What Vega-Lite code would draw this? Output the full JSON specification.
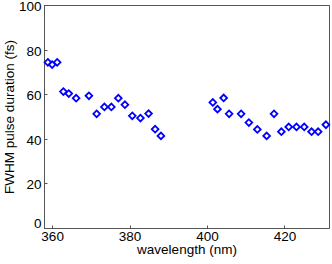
{
  "$schema": "https://vega.github.io/schema/vega-lite/v6.json",
  "width": 285,
  "height": 223,
  "autosize": "none",
  "padding": {"left": 44, "top": 5, "right": 3, "bottom": 36},
  "background": "white",
  "config": {
    "view": {"stroke": "#555555", "strokeWidth": 1},
    "font": "Liberation Sans",
    "axis": {
      "grid": false,
      "domainColor": "#555555",
      "tickColor": "#555555",
      "tickSize": -3,
      "labelColor": "#000000",
      "titleColor": "#000000",
      "labelFont": "Liberation Sans",
      "titleFont": "Liberation Sans",
      "labelFontSize": 13.5,
      "titleFontSize": 13.5,
      "titleFontWeight": "normal"
    }
  },
  "data": {
    "values": [
      {"wavelength": 358.9, "fwhm": 74.3},
      {"wavelength": 360.0, "fwhm": 73.3},
      {"wavelength": 361.3, "fwhm": 74.3},
      {"wavelength": 362.9, "fwhm": 61.2},
      {"wavelength": 364.3, "fwhm": 60.3},
      {"wavelength": 366.2, "fwhm": 58.2},
      {"wavelength": 369.5, "fwhm": 59.3},
      {"wavelength": 371.5, "fwhm": 51.2},
      {"wavelength": 373.5, "fwhm": 54.3},
      {"wavelength": 375.3, "fwhm": 54.3},
      {"wavelength": 377.1, "fwhm": 58.2},
      {"wavelength": 378.8, "fwhm": 55.3},
      {"wavelength": 380.7, "fwhm": 50.3},
      {"wavelength": 382.8, "fwhm": 49.3},
      {"wavelength": 384.9, "fwhm": 51.3},
      {"wavelength": 386.6, "fwhm": 44.3},
      {"wavelength": 388.1, "fwhm": 41.3},
      {"wavelength": 401.5, "fwhm": 56.3},
      {"wavelength": 402.7, "fwhm": 53.3},
      {"wavelength": 404.3, "fwhm": 58.3},
      {"wavelength": 405.7, "fwhm": 51.2},
      {"wavelength": 408.8, "fwhm": 51.2},
      {"wavelength": 410.8, "fwhm": 47.3},
      {"wavelength": 413.0, "fwhm": 44.2},
      {"wavelength": 415.4, "fwhm": 41.3},
      {"wavelength": 417.3, "fwhm": 51.2},
      {"wavelength": 419.2, "fwhm": 43.2},
      {"wavelength": 421.1, "fwhm": 45.3},
      {"wavelength": 423.1, "fwhm": 45.3},
      {"wavelength": 425.1, "fwhm": 45.3},
      {"wavelength": 427.0, "fwhm": 43.2},
      {"wavelength": 428.7, "fwhm": 43.2},
      {"wavelength": 430.7, "fwhm": 46.3}
    ]
  },
  "mark": {"type": "point", "shape": "diamond", "filled": false, "color": "#0000ff", "size": 45, "strokeWidth": 1.8, "opacity": 1},
  "encoding": {
    "x": {
      "field": "wavelength",
      "type": "quantitative",
      "scale": {"domain": [357.9, 431.5], "nice": false, "zero": false},
      "axis": {"values": [360, 380, 400, 420], "title": "wavelength (nm)", "labelPadding": 4, "titlePadding": 0, "labelFlush": false}
    },
    "y": {
      "field": "fwhm",
      "type": "quantitative",
      "scale": {"domain": [0, 100], "nice": false},
      "axis": {
        "values": [0, 20, 40, 60, 80, 100],
        "title": "FWHM pulse duration (fs)",
        "labelPadding": 6,
        "titlePadding": 2,
        "labelFlush": false,
        "labelOffset": {"condition": {"test": "datum.value === 0", "value": -5}, "value": 1.5}
      }
    }
  }
}
